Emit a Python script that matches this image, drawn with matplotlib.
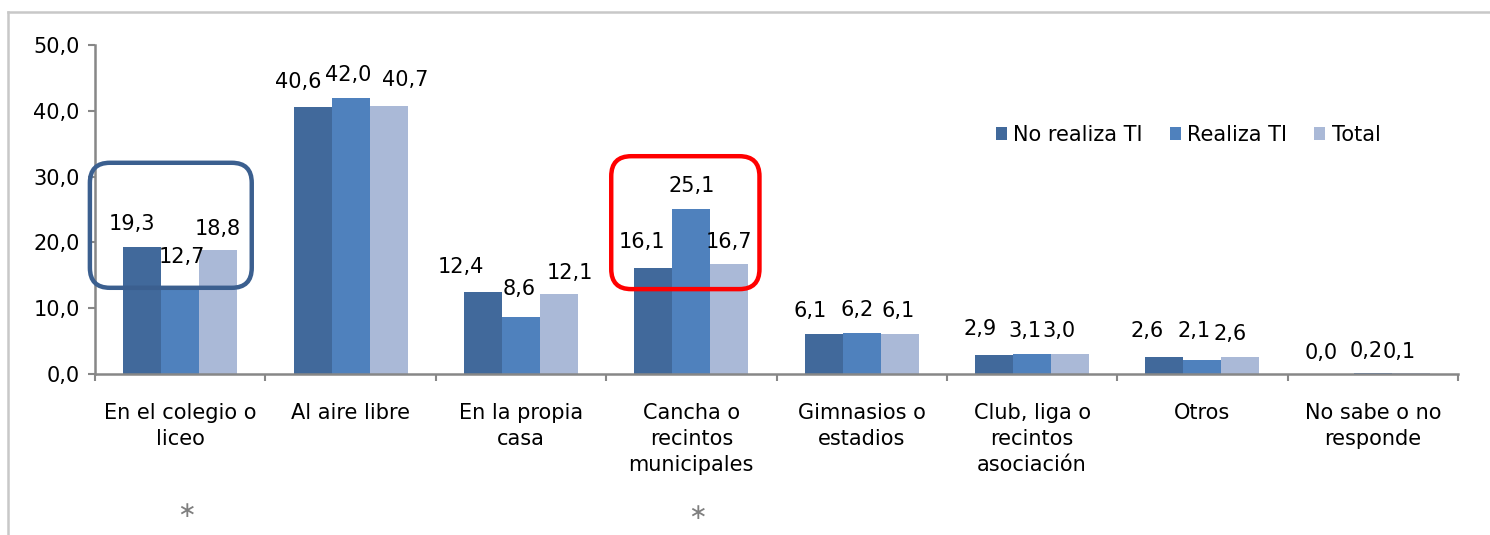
import numpy as np
import matplotlib
matplotlib.use('Agg')
from matplotlib import pyplot as plt
from matplotlib.patches import FancyBboxPatch, Patch
from matplotlib.lines import Line2D

categories = ['En el colegio o\nliceo', 'Al aire libre', 'En la propia\ncasa',
              'Cancha o\nrecintos\nmunicipales', 'Gimnasios o\nestadios',
              'Club, liga o\nrecintos\nasociación', 'Otros', 'No sabe o no\nresponde']
series_names = ['No realiza TI', 'Realiza TI', 'Total']
no_realiza = [19.3, 40.6, 12.4, 16.1, 6.1, 2.9, 2.6, 0.0]
realiza = [12.7, 42.0, 8.6, 25.1, 6.2, 3.1, 2.1, 0.2]
total = [18.8, 40.7, 12.1, 16.7, 6.1, 3.0, 2.6, 0.1]
yticks = [0, 10, 20, 30, 40, 50]

colors = ['#41699b', '#4f81bd', '#aab9d7']

# posicion manual de las etiquetas (pixeles, dx / dy desde el tope de la barra)
lbl_dx = [[-10, -14, -22, -11, -14, -14, -17, -14],
          [2, -2, -2, 0, -5, -7, -8, -7],
          [0, 17, 11, 0, -2, -11, -10, -12]]
lbl_dy = [[23, 25, 25, 26, 23, 26, 26, 21],
          [33, 23, 28, 23, 23, 23, 29, 22],
          [21, 26, 21, 22, 23, 23, 23, 21]]

plt.rcParams['font.family'] = ['DejaVu Sans']
fs = 15

fig = plt.figure(figsize=(14.9, 5.35), dpi=100)
ax = fig.add_axes([95 / 1490, 1 - 374 / 535, 1363 / 1490, 329 / 535])

x = np.arange(len(categories))
w = 0.223
data = [no_realiza, realiza, total]
for k, vals in enumerate(data):
    xs = x + (k - 1) * w
    ax.bar(xs, vals, width=w, color=colors[k], edgecolor='none', label=series_names[k], zorder=2)
    for i, v in enumerate(vals):
        ax.annotate(('%.1f' % v).replace('.', ','), (xs[i], v),
                    xytext=(lbl_dx[k][i], lbl_dy[k][i]), textcoords='offset pixels',
                    ha='center', va='center', fontsize=fs, color='black')

ax.set_xlim(-0.5, len(categories) - 0.5)
ax.set_ylim(0, 50)
ax.set_yticks(yticks)
ax.set_yticklabels([('%.1f' % t).replace('.', ',') for t in yticks], fontsize=fs)
ax.set_xticks(np.arange(len(categories) + 1) - 0.5)
ax.set_xticklabels([])
ax.set_xticks(x, minor=True)
ax.set_xticklabels(categories, minor=True, fontsize=fs, linespacing=1.37)
ax.tick_params(axis='x', which='minor', length=0, pad=21)
ax.tick_params(axis='x', which='major', length=5, width=1.5, color='#878787', direction='out')
ax.tick_params(axis='y', length=5, width=1.5, color='#878787', pad=6)

for s in ['top', 'right']:
    ax.spines[s].set_visible(False)
for s in ['left', 'bottom']:
    ax.spines[s].set_color('#878787')
    ax.spines[s].set_linewidth(1.8)

handles = [Patch(facecolor=c, edgecolor='none') for c in colors]
fig.legend(handles, series_names, loc='center left', bbox_to_anchor=(996 / 1490, 1 - 135 / 535),
           ncol=3, frameon=False, fontsize=fs, handlelength=0.53, handleheight=0.53,
           handletextpad=0.3, columnspacing=1.3, borderpad=0, borderaxespad=0)

# recuadros redondeados
fig.canvas.draw()
def caja(x0, x1, y0, y1, color):
    p0 = ax.transData.transform((x0, y0))
    p1 = ax.transData.transform((x1, y1))
    r = 20
    box = FancyBboxPatch((p0[0] + r, p0[1] + r), p1[0] - p0[0] - 2 * r, p1[1] - p0[1] - 2 * r,
                         boxstyle='round,pad=%d' % r, transform=None, fill=False,
                         edgecolor=color, linewidth=3.2, zorder=5)
    fig.add_artist(box)

caja(-0.53, 0.42, 13.1, 32.1, '#3b5f8f')
caja(2.53, 3.40, 12.9, 33.1, '#ff0000')

# asteriscos
fig.text(186 / 1490, 1 - 511 / 535, '\u2217', fontsize=16, color='#7f7f7f', ha='center', va='center')
fig.text(697 / 1490, 1 - 513 / 535, '\u2217', fontsize=16, color='#7f7f7f', ha='center', va='center')

# borde del grafico
fig.add_artist(Line2D([8 / 1490, 1], [1 - 12 / 535, 1 - 12 / 535], color='#c8c8c8', lw=1.8))
fig.add_artist(Line2D([8 / 1490, 8 / 1490], [0, 1 - 12 / 535], color='#c8c8c8', lw=1.8))

plt.savefig('out.png', dpi=100)
